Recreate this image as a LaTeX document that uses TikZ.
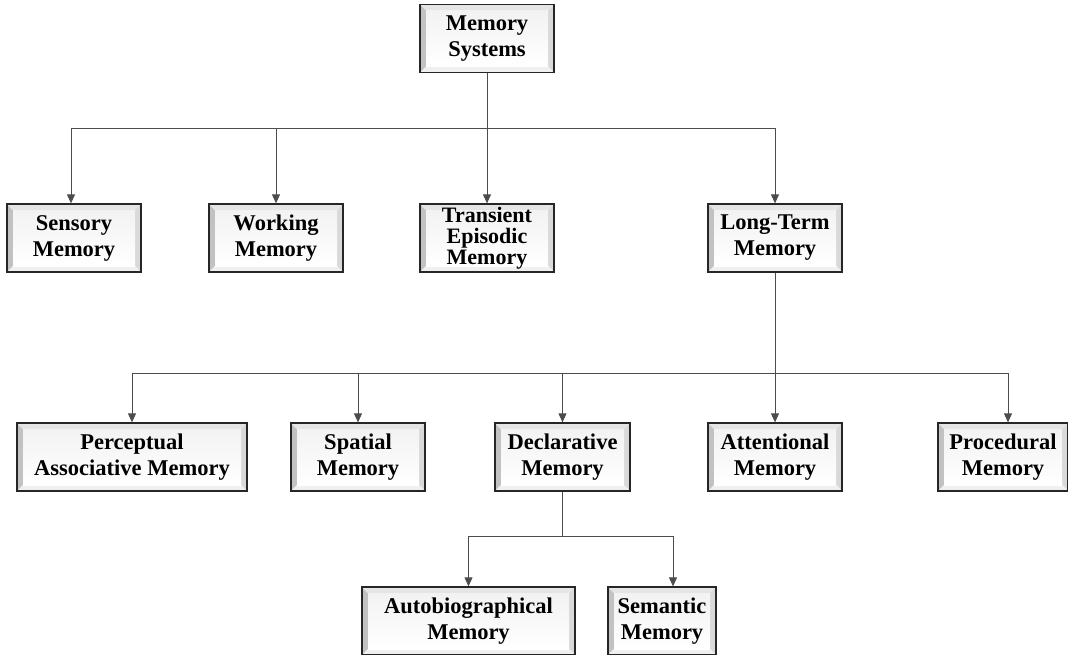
\documentclass[tikz,border=0pt]{standalone}
\usepackage{fontspec}
\setmainfont{Liberation Serif}
\usetikzlibrary{arrows.meta}
\begin{document}
\begin{tikzpicture}[x=1pt,y=-1pt,
  mbox/.style={draw=black!85, line width=1.3pt, minimum width=134pt, minimum height=68pt,
    inner sep=0pt, align=center, font=\bfseries\fontsize{22.5}{26}\selectfont,
    path picture={
      \def\pb{path picture bounding box}
      \fill[black!24] (\pb.south west) -- (\pb.north west) -- ([shift={(6pt,-6pt)}]\pb.north west) -- ([shift={(6pt,6pt)}]\pb.south west) -- cycle;
      \fill[black!10] (\pb.north west) -- (\pb.north east) -- ([shift={(-6pt,-6pt)}]\pb.north east) -- ([shift={(6pt,-6pt)}]\pb.north west) -- cycle;
      \fill[black!15] (\pb.north east) -- (\pb.south east) -- ([shift={(-6pt,6pt)}]\pb.south east) -- ([shift={(-6pt,-6pt)}]\pb.north east) -- cycle;
      \fill[black!6] (\pb.south west) -- (\pb.south east) -- ([shift={(-6pt,6pt)}]\pb.south east) -- ([shift={(6pt,6pt)}]\pb.south west) -- cycle;
      \shade[top color=black!5, bottom color=white] ([shift={(6pt,6pt)}]\pb.south west) rectangle ([shift={(-6pt,-6pt)}]\pb.north east);
    }},
  conn/.style={draw=black!70, line width=0.8pt},
  arr/.style={conn, -{Triangle[length=9pt,width=8pt]}}]
\useasboundingbox (0,0) rectangle (1068,654);

% level 0
\node[mbox] (ms) at (487,38.5) {Memory\\Systems};
% level 1
\node[mbox] (sen) at (74,238) {Sensory\\Memory};
\node[mbox] (wrk) at (276,238) {Working\\Memory};
\node[mbox, font=\bfseries\fontsize{22}{21}\selectfont] (tem) at (487,238) {Transient\\Episodic\\Memory};
\node[mbox] (ltm) at (775,238) {Long-Term\\Memory};
% level 2
\node[mbox, minimum width=230pt] (pam) at (132,457) {Perceptual\\Associative Memory};
\node[mbox] (spa) at (358,457) {Spatial\\Memory};
\node[mbox, minimum width=135pt] (dec) at (562.5,457) {Declarative\\Memory};
\node[mbox] (att) at (775,457) {Attentional\\Memory};
\node[mbox, minimum width=130pt] (pro) at (1003,457) {Procedural\\Memory};
% level 3
\node[mbox, minimum width=213pt] (aut) at (468.5,621) {Autobiographical\\Memory};
\node[mbox, minimum width=108pt] (sem) at (662,621) {Semantic\\Memory};

% connectors level 0 -> 1
\coordinate (j1) at (487,128);
\draw[conn] (ms.south) -- (j1);
\draw[conn] ([xshift=-3pt]sen.north |- j1) -- (ltm.north |- j1);
\draw[arr] ([xshift=-3pt]sen.north |- j1) -- ([xshift=-3pt]sen.north);
\draw[arr] (wrk.north |- j1) -- (wrk.north);
\draw[arr] (tem.north |- j1) -- (tem.north);
\draw[arr] (ltm.north |- j1) -- (ltm.north);

% connectors level 1 -> 2
\coordinate (j2) at (775,373);
\draw[arr] (ltm.south) -- (att.north);
\draw[conn] (pam.north |- j2) -- ([xshift=5pt]pro.north |- j2);
\draw[arr] (pam.north |- j2) -- (pam.north);
\draw[arr] (spa.north |- j2) -- (spa.north);
\draw[arr] (dec.north |- j2) -- (dec.north);
\draw[arr] ([xshift=5pt]pro.north |- j2) -- ([xshift=5pt]pro.north);

% connectors level 2 -> 3
\coordinate (j3) at (562.5,536);
\draw[conn] (dec.south) -- (j3);
\draw[conn] (aut.north |- j3) -- ([xshift=11pt]sem.north |- j3);
\draw[arr] (aut.north |- j3) -- (aut.north);
\draw[arr] ([xshift=11pt]sem.north |- j3) -- ([xshift=11pt]sem.north);
\end{tikzpicture}
\end{document}
